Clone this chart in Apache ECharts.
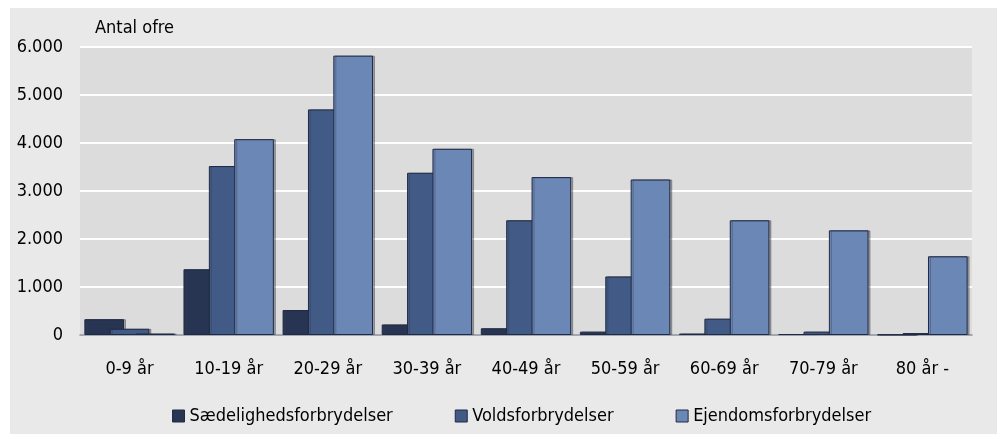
<!DOCTYPE html>
<html>
<head>
<meta charset="utf-8">
<script src="https://cdn.jsdelivr.net/npm/echarts@6/dist/echarts.min.js"></script>
<style>
html,body{margin:0;padding:0;background:#fff;}
#c{width:997px;height:434px;}
</style>
</head>
<body>
<div id="c"></div>
<script>
const categories = ['0-9 år','10-19 år','20-29 år','30-39 år','40-49 år','50-59 år','60-69 år','70-79 år','80 år -'];
const seriesNames = ['Sædelighedsforbrydelser','Voldsforbrydelser','Ejendomsforbrydelser'];
const saedelighed = [330, 1370, 520, 220, 140, 70, 30, 20, 8];
const volds = [130, 3520, 4700, 3380, 2390, 1220, 340, 70, 40];
const ejendom = [30, 4080, 5820, 3880, 3290, 3240, 2390, 2180, 1640];
const yTicks = [0, 1000, 2000, 3000, 4000, 5000, 6000];
const yName = 'Antal ofre';

const FONT = '"Liberation Sans Narrow","DejaVu Sans Condensed","Open Sans",sans-serif';
const FS = 18;
const colors = ['#283552', '#415a86', '#6b87b5'];
const fmt = v => String(v).replace(/\B(?=(\d{3})+(?!\d))/g, '.');

const chart = echarts.init(document.getElementById('c'));
const mkSeries = (name, data, color) => ({
  name, type: 'bar', data,
  barWidth: '40%', barGap: '-36%',
  itemStyle: { color, borderColor: '#1f2a45', borderWidth: 1,
    shadowColor: 'rgba(60,60,70,0.4)', shadowOffsetX: 2, shadowOffsetY: 0, shadowBlur: 0 }
});
chart.setOption({
  backgroundColor: '#ffffff',
  animation: false,
  textStyle: { fontFamily: FONT },
  graphic: [{ type: 'rect', z: -100, silent: true,
    shape: { x: 10, y: 8, width: 990, height: 430 },
    style: { fill: '#e9e9e9' } }],
  grid: { left: 80, right: 25, top: 47, bottom: 99, show: true,
    backgroundColor: '#dcdcdc', borderWidth: 0 },
  legend: {
    data: seriesNames, left: 167, top: 402,
    icon: 'rect', itemWidth: 12, itemHeight: 12, itemGap: 62,
    textStyle: { fontFamily: FONT, fontSize: FS, color: '#000' },
    itemStyle: { borderColor: '#1f2a45', borderWidth: 1 }
  },
  xAxis: {
    type: 'category', data: categories,
    axisLine: { show: true, lineStyle: { color: '#858b97', width: 1.5 } },
    axisTick: { show: false },
    axisLabel: { color: '#000', fontSize: FS, fontFamily: FONT, margin: 25 }
  },
  yAxis: {
    type: 'value', min: yTicks[0], max: yTicks[yTicks.length-1], interval: 1000,
    name: yName, nameLocation: 'end', nameGap: 10,
    nameTextStyle: { color: '#000', fontSize: FS, fontFamily: FONT, align: 'left', padding: [0,0,0,15] },
    axisLine: { show: false }, axisTick: { show: false },
    axisLabel: { color: '#000', fontSize: FS, fontFamily: FONT, margin: 17, formatter: fmt },
    splitLine: { lineStyle: { color: '#ffffff', width: 2 } }
  },
  series: [
    mkSeries(seriesNames[0], saedelighed, colors[0]),
    mkSeries(seriesNames[1], volds, colors[1]),
    mkSeries(seriesNames[2], ejendom, colors[2])
  ]
});
</script>
</body>
</html>
